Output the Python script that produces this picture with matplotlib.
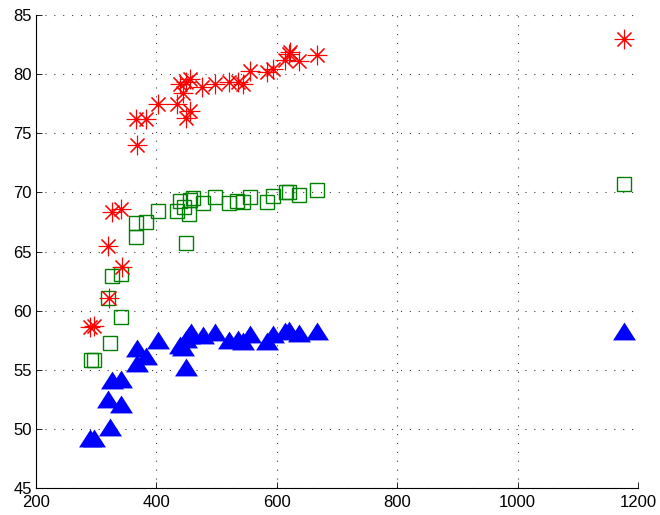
import matplotlib
matplotlib.use('Agg')
import matplotlib.pyplot as plt
from matplotlib.path import Path
import numpy as np

x_red = [290, 297, 322, 320, 326, 342, 343, 366, 367, 382, 402, 435, 440, 445, 449,
         450, 456, 456, 476, 498, 521, 535, 544, 556, 584, 594, 614, 620, 622, 637,
         666, 1176]
y_red = [58.6, 58.7, 61.1, 65.5, 68.3, 68.6, 63.7, 76.2, 74.0, 76.2, 77.5, 77.5, 79.2, 78.4, 76.3,
         79.3, 76.9, 79.6, 78.9, 79.2, 79.3, 79.3, 79.2, 80.3, 80.2, 80.4, 81.2, 81.7, 81.9, 81.1,
         81.6, 83.0]

x_green = [292, 297, 320, 323, 327, 342, 342, 366, 366, 382, 402, 435, 440, 446, 449,
           455, 456, 461, 478, 498, 520, 534, 544, 556, 584, 594, 615, 621, 637, 667, 1176]
y_green = [55.8, 55.8, 61.05, 57.25, 62.9, 63.1, 59.5, 67.4, 66.2, 67.5, 68.4, 68.4, 69.3, 68.8, 65.7,
           68.2, 69.35, 69.5, 69.1, 69.6, 69.1, 69.3, 69.2, 69.6, 69.2, 69.7, 70.0, 70.0, 69.8, 70.2, 70.7]

x_blue = [290, 297, 323, 319, 342, 326, 342, 367, 367, 382, 402, 439, 445, 449, 450,
          455, 458, 478, 498, 521, 535, 544, 556, 584, 594, 614, 620, 637, 666, 1176]
y_blue = [49.2, 49.2, 50.2, 52.5, 52.1, 54.15, 54.2, 56.8, 55.6, 56.2, 57.5, 57.1, 56.9, 55.2, 57.6,
          57.95, 58.2, 57.9, 58.2, 57.5, 57.6, 57.4, 58.0, 57.4, 58.0, 58.3, 58.4, 58.1, 58.3, 58.3]

plt.rcParams['font.family'] = ['Liberation Sans', 'DejaVu Sans']

# wide triangle like matlab's '^'
tri = Path([(0, 0.78), (-1, -0.78), (1, -0.78), (0, 0.78)],
           [Path.MOVETO, Path.LINETO, Path.LINETO, Path.CLOSEPOLY])

fig = plt.figure(figsize=(6.6, 5.15), dpi=100)
ax = fig.add_axes([0.0545, 0.0524, 0.9122, 0.9185])

ax.plot(x_blue, y_blue, linestyle='none', marker=tri, markersize=16.5,
        color=(0, 0, 1), markeredgewidth=0)
ax.plot(x_green, y_green, linestyle='none', marker='s', markersize=10.5,
        markerfacecolor='none', markeredgecolor=(0, 0.5, 0), markeredgewidth=1.0)
ax.plot(x_red, y_red, linestyle='none', marker=(8, 2, 0), markersize=14,
        color=(1, 0, 0), markeredgewidth=0.8)

ax.set_xlim(200, 1200)
ax.set_ylim(45, 85)
ax.set_xticks(np.arange(200, 1201, 200))
ax.set_yticks(np.arange(45, 86, 5))

ax.grid(True, color='0.25', linestyle=(0, (1, 7)), linewidth=0.8)
ax.spines['top'].set_visible(False)
ax.spines['right'].set_visible(False)
ax.tick_params(direction='in', length=4, labelsize=12, width=0.6)
ax.tick_params(axis='x', pad=5)
ax.tick_params(axis='y', pad=3)

fig.savefig('out.png', dpi=100)
